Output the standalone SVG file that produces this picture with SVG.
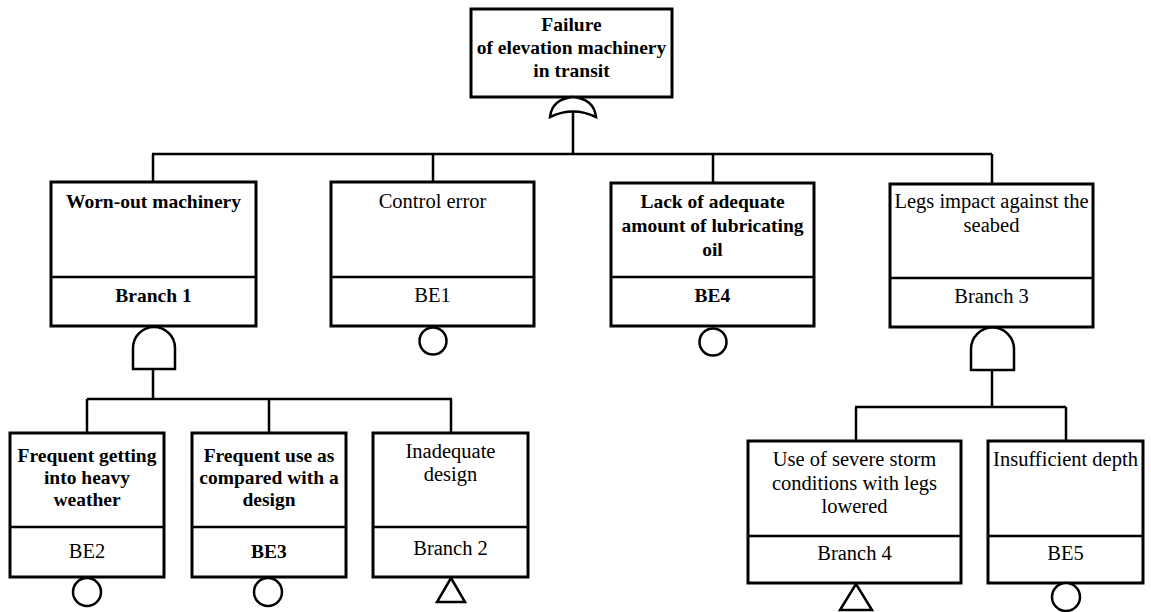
<svg xmlns="http://www.w3.org/2000/svg" width="1151" height="612" viewBox="0 0 1151 612">
<style>
.box{fill:#fff;stroke:#000;stroke-width:3}
.div{stroke:#000;stroke-width:2.5}
.ln{fill:none;stroke:#000;stroke-width:2.5}
.gate{fill:#fff;stroke:#000;stroke-width:2.5}
text{font-family:"Liberation Serif","Times New Roman",serif;font-size:20.5px;fill:#000;text-anchor:middle}
.b{font-weight:bold;font-size:19.5px}
</style>
<rect width="1151" height="612" fill="#fff"/>
<g id="connectors">
<path class="ln" d="M573,110 V154 M152,154 H992 M153,154 V182 M433,154 V182 M713,154 V183 M992,154 V184"/>
<path class="ln" d="M153,369 V399 M87,399 H452 M87,399 V433 M269,399 V433 M451,399 V433"/>
<path class="ln" d="M992,370 V407 M855,407 H1066 M856,407 V441 M1066,407 V441"/>
</g>
<g id="top">
<rect class="box" x="471" y="9" width="201" height="88"/>
<text class="b" x="571.5" y="31">Failure</text>
<text class="b" x="571.5" y="54">of elevation machinery</text>
<text class="b" x="571.5" y="77">in transit</text>
<path class="gate" d="M550,117 Q552,99 573,97 Q594,99 596,117 Q573,106 550,117 Z"/>
</g>
<g id="worn">
<rect class="box" x="51" y="182" width="205" height="144"/>
<line class="div" x1="51" y1="277" x2="256" y2="277"/>
<text class="b" x="153.5" y="208">Worn-out machinery</text>
<text class="b" x="153.5" y="302">Branch 1</text>
<path class="gate" d="M133,369 V348 A21,21 0 0 1 175,348 V369 Z"/>
</g>
<g id="control">
<rect class="box" x="331" y="182" width="203" height="144"/>
<line class="div" x1="331" y1="277" x2="534" y2="277"/>
<text x="432.5" y="208">Control error</text>
<text x="432.5" y="302">BE1</text>
<circle class="gate" cx="433" cy="341" r="13.5"/>
</g>
<g id="lack">
<rect class="box" x="611" y="183" width="203" height="143"/>
<line class="div" x1="611" y1="277" x2="814" y2="277"/>
<text class="b" x="712.5" y="208">Lack of adequate</text>
<text class="b" x="712.5" y="232">amount of lubricating</text>
<text class="b" x="712.5" y="256">oil</text>
<text class="b" x="712.5" y="302">BE4</text>
<circle class="gate" cx="713" cy="342" r="13.5"/>
</g>
<g id="legs">
<rect class="box" x="890" y="184" width="203" height="143"/>
<line class="div" x1="890" y1="278" x2="1093" y2="278"/>
<text x="991.5" y="208">Legs impact against the</text>
<text x="991.5" y="232">seabed</text>
<text x="991.5" y="303">Branch 3</text>
<path class="gate" d="M971,370 V349 A21.5,21.5 0 0 1 1014,349 V370 Z"/>
</g>
<g id="frequent-getting">
<rect class="box" x="10" y="433" width="154" height="144"/>
<line class="div" x1="10" y1="527" x2="164" y2="527"/>
<text class="b" x="87" y="462">Frequent getting</text>
<text class="b" x="87" y="484">into heavy</text>
<text class="b" x="87" y="506">weather</text>
<text x="87" y="558">BE2</text>
<circle class="gate" cx="87" cy="592" r="14"/>
</g>
<g id="frequent-use">
<rect class="box" x="192" y="433" width="154" height="144"/>
<line class="div" x1="192" y1="527" x2="346" y2="527"/>
<text class="b" x="269" y="462">Frequent use as</text>
<text class="b" x="269" y="484">compared with a</text>
<text class="b" x="269" y="506">design</text>
<text class="b" x="269" y="558">BE3</text>
<circle class="gate" cx="268" cy="592" r="14"/>
</g>
<g id="inadequate">
<rect class="box" x="373" y="433" width="155" height="144"/>
<line class="div" x1="373" y1="527" x2="528" y2="527"/>
<text x="450.5" y="458">Inadequate</text>
<text x="450.5" y="481">design</text>
<text x="450.5" y="555">Branch 2</text>
<path class="gate" d="M451,578 L465,602 L437,602 Z"/>
</g>
<g id="severe">
<rect class="box" x="748" y="441" width="213" height="142"/>
<line class="div" x1="748" y1="536" x2="961" y2="536"/>
<text x="854.5" y="466">Use of severe storm</text>
<text x="854.5" y="490">conditions with legs</text>
<text x="854.5" y="513">lowered</text>
<text x="854.5" y="560">Branch 4</text>
<path class="gate" d="M856,584 L872,610 L840,610 Z"/>
</g>
<g id="depth">
<rect class="box" x="988" y="441" width="155" height="142"/>
<line class="div" x1="988" y1="536" x2="1143" y2="536"/>
<text x="1065.5" y="466">Insufficient depth</text>
<text x="1065.5" y="560">BE5</text>
<circle class="gate" cx="1066" cy="597" r="14"/>
</g>
</svg>
